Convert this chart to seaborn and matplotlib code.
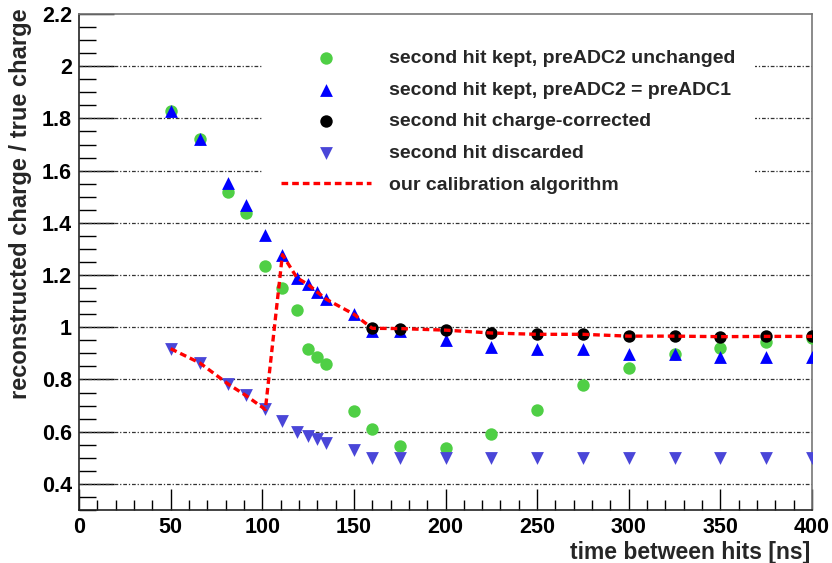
import matplotlib
matplotlib.use("Agg")
import matplotlib.pyplot as plt
from matplotlib.ticker import MultipleLocator
import seaborn as sns

# ---- data ----
time_ns = [50, 66, 81.5, 91, 101.7, 111, 119, 125, 130, 135, 150, 160, 175,
           200, 225, 250, 275, 300, 325, 350, 375, 400]
kept_unchanged = [1.83, 1.72, 1.52, 1.436, 1.235, 1.152, 1.068, 0.916, 0.886, 0.859,
                  0.679, 0.609, 0.545, 0.538, 0.593, 0.682, 0.779, 0.843, 0.899,
                  0.922, 0.944, 0.96]
kept_equal = [1.83, 1.72, 1.553, 1.469, 1.355, 1.278, 1.189, 1.164, 1.135, 1.107,
              1.05, 0.985, 0.985, 0.953, 0.925, 0.915, 0.915, 0.899, 0.899,
              0.886, 0.886, 0.886]
corrected_time = [160, 175, 200, 225, 250, 275, 300, 325, 350, 375, 400]
corrected = [0.996, 0.995, 0.989, 0.978, 0.973, 0.973, 0.966, 0.966, 0.964, 0.965, 0.965]
discarded = [0.918, 0.863, 0.782, 0.739, 0.685, 0.64, 0.599, 0.585, 0.571, 0.558,
             0.529, 0.50, 0.50, 0.50, 0.50, 0.50, 0.50, 0.50, 0.50, 0.50, 0.50, 0.50]
calib_time = [50, 66, 81.5, 91, 101.7, 111, 119, 125, 130, 135, 150,
              160, 175, 200, 225, 250, 275, 300, 325, 350, 375, 400]
calib_ratio = [0.918, 0.863, 0.782, 0.739, 0.685, 1.278, 1.189, 1.164, 1.135, 1.107, 1.05,
               0.996, 0.995, 0.989, 0.978, 0.973, 0.973, 0.966, 0.966, 0.964, 0.965, 0.965]

ytick_values = [0.4, 0.6, 0.8, 1.0, 1.2, 1.4, 1.6, 1.8, 2.0, 2.2]
ytick_labels = ["0.4", "0.6", "0.8", "1", "1.2", "1.4", "1.6", "1.8", "2", "2.2"]
grid_values = [0.4, 0.6, 0.8, 1.0, 1.2, 1.4, 1.6, 1.8, 2.0]

labels = ["second hit kept, preADC2 unchanged",
          "second hit kept, preADC2 = preADC1",
          "second hit charge-corrected",
          "second hit discarded",
          "our calibration algorithm"]

sns.set_style("white")
plt.rcParams['font.family'] = ['Liberation Sans', 'DejaVu Sans']
plt.rcParams['font.weight'] = 'bold'

fig = plt.figure(figsize=(8.32, 5.63), dpi=100)
ax = fig.add_axes([79/832, 1 - 510/563, (812-79)/832, (510-14)/563])

green = "#4fcf45"
blue = "#0000ff"
slate = "#4a46d8"

sns.scatterplot(x=time_ns, y=kept_unchanged, ax=ax, color=green, marker="o", s=80,
                linewidth=0, label=labels[0], zorder=3)
sns.scatterplot(x=time_ns, y=kept_equal, ax=ax, color=blue, marker="^", s=85,
                linewidth=0, label=labels[1], zorder=4)
sns.scatterplot(x=corrected_time, y=corrected, ax=ax, color="black", marker="o", s=80,
                linewidth=0, label=labels[2], zorder=5)
sns.scatterplot(x=time_ns, y=discarded, ax=ax, color=slate, marker="v", s=85,
                linewidth=0, label=labels[3], zorder=4)
sns.lineplot(x=calib_time, y=calib_ratio, ax=ax, sort=False, color="#ff0000",
             linewidth=2.4, linestyle=(0, (2.0, 1.2)), label=labels[4], zorder=6,
             estimator=None)

ax.set_xlim(0, 400)
ax.set_ylim(0.3, 2.2)
ax.xaxis.set_major_locator(MultipleLocator(50))
ax.xaxis.set_minor_locator(MultipleLocator(10))
ax.set_yticks(ytick_values)
ax.set_yticklabels(ytick_labels)
ax.yaxis.set_minor_locator(MultipleLocator(0.05))

ax.tick_params(axis='both', which='both', direction='in', colors='black',
               labelsize=15.5, width=1, left=True, bottom=True, top=False, right=False)
ax.tick_params(axis='y', which='major', length=25, pad=5)
ax.tick_params(axis='y', which='minor', length=12)
ax.tick_params(axis='x', which='major', length=15, pad=5)
ax.tick_params(axis='x', which='minor', length=7)
for lab in ax.get_xticklabels() + ax.get_yticklabels():
    lab.set_fontweight('bold')

for y in grid_values:
    ax.axhline(y, color="#333333", linewidth=0.9, linestyle=(0, (3, 1.5, 1, 1.5)), zorder=1)

for side in ['left', 'bottom']:
    ax.spines[side].set_color('#222222')
    ax.spines[side].set_linewidth(1.2)
for side in ['top', 'right']:
    ax.spines[side].set_color('#777777')
    ax.spines[side].set_linewidth(1.2)
    ax.spines[side].set_visible(True)

ax.set_xlabel("time between hits [ns]", loc='right', fontsize=16.5, fontweight='bold')
ax.xaxis.set_label_coords(0.997, -0.063)
ax.set_ylabel("reconstructed charge / true charge", loc='top', fontsize=17, fontweight='bold')
ax.yaxis.set_label_coords(-0.064, 1.012)

leg = ax.legend(loc='upper left', bbox_to_anchor=((262-79)/733, 1 - (30-14)/496),
                frameon=True, fontsize=14, handlelength=4.6, handletextpad=0.95,
                labelspacing=0.72, borderpad=1.0, borderaxespad=0)
leg.get_frame().set_edgecolor('none')
leg.get_frame().set_facecolor('white')
leg.get_frame().set_alpha(1)
leg.set_zorder(7)
for t in leg.get_texts():
    t.set_fontweight('bold')

fig.savefig("out.png", dpi=100)
